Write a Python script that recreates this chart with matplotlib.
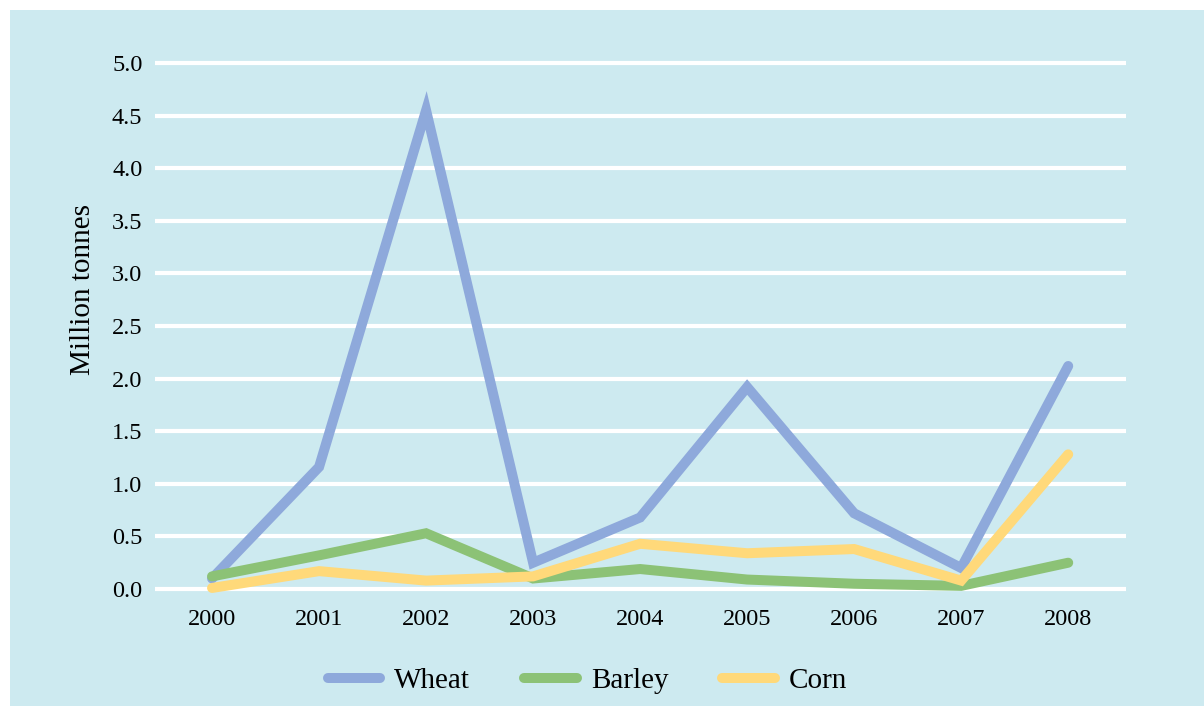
import matplotlib
matplotlib.use("AGG")
import matplotlib.pyplot as plt
from matplotlib.patches import Rectangle

years = ["2000", "2001", "2002", "2003", "2004", "2005", "2006", "2007", "2008"]
wheat = [0.10, 1.16, 4.55, 0.25, 0.68, 1.92, 0.72, 0.20, 2.12]
barley = [0.12, 0.32, 0.53, 0.10, 0.19, 0.09, 0.05, 0.03, 0.25]
corn = [0.01, 0.17, 0.08, 0.12, 0.43, 0.34, 0.38, 0.08, 1.28]
yticks = [0.0, 0.5, 1.0, 1.5, 2.0, 2.5, 3.0, 3.5, 4.0, 4.5, 5.0]

plt.rcParams['font.family'] = ['Liberation Serif', 'DejaVu Serif']

bg = "#CDEAF0"
fig = plt.figure(figsize=(12.04, 7.06), dpi=100)
fig.patch.set_facecolor("white")
fig.add_artist(Rectangle((10 / 1204, 0), 1 - 10 / 1204, 1 - 10 / 706,
                         transform=fig.transFigure, facecolor=bg,
                         edgecolor="none", zorder=-5))

ax = fig.add_axes([155 / 1204, 0.1508, (1126 - 155) / 1204, 0.7748])
ax.set_zorder(2)
ax.patch.set_alpha(0)

x = range(len(years))
for vals, col, lab in [(wheat, "#8EA9DB", "Wheat"),
                       (barley, "#8CC276", "Barley"),
                       (corn, "#FFD97A", "Corn")]:
    ax.plot(x, vals, color=col, lw=7.2, solid_capstyle="round",
            solid_joinstyle="miter", label=lab, zorder=3)

ax.set_xlim(-0.533, 8.54)
ax.set_ylim(-0.1, 5.1)
ax.set_yticks(yticks)
ax.set_yticklabels([f"{v:.1f}" for v in yticks])
ax.set_xticks(list(x))
ax.set_xticklabels(years)
ax.grid(axis="y", color="white", lw=3)
ax.set_axisbelow(True)
for s in ax.spines.values():
    s.set_visible(False)
ax.tick_params(axis="both", length=0, labelsize=17.5)
ax.tick_params(axis="y", pad=9)
ax.tick_params(axis="x", pad=6.5)
ax.set_ylabel("Million tonnes", fontsize=21)
ax.yaxis.set_label_coords(-0.061, 0.566)

fig.legend(loc="center", bbox_to_anchor=(0.488, 1 - 681 / 706), ncol=3,
           frameon=False, fontsize=21, handlelength=1.8, handletextpad=0.48,
           columnspacing=1.85)

plt.savefig("out.png", dpi=100, facecolor=fig.get_facecolor())
